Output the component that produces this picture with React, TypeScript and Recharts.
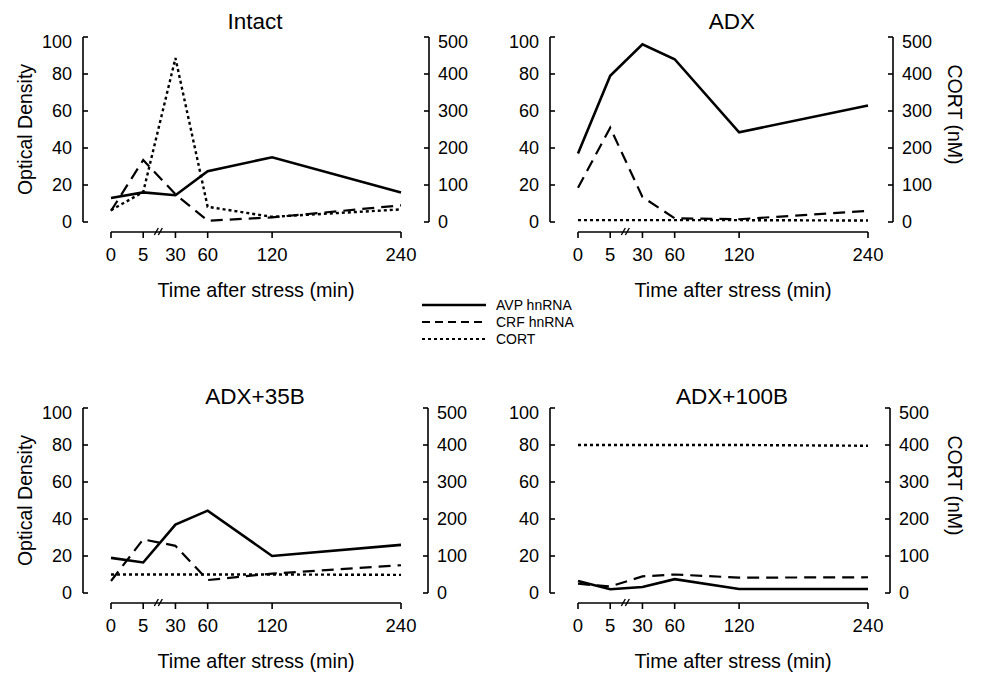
import React from "react";
import { Legend, Line, LineChart, XAxis, YAxis } from "recharts";

const font = "'Liberation Sans', Arial, Helvetica, sans-serif";

const timeLabels = ["0", "5", "30", "60", "120", "240"];
// 0, 5 and 30 min are evenly spaced, the axis is linear from 30 min on
const timePositions = [0, 1, 2, 3, 5, 9];
const axisBreak = 1.5;

const odTicks = [0, 20, 40, 60, 80, 100];
const cortTicks = [0, 100, 200, 300, 400, 500];

const intactAvp = [13, 16, 14.5, 27.5, 35, 16];
const intactCrf = [6, 33.5, 15, 0.7, 2.5, 9];
const intactCort = [32, 81, 443, 41, 14, 34];

const adxAvp = [37, 79, 96, 88, 48.5, 63];
const adxCrf = [18.5, 51, 13.5, 2, 1.5, 6];
const adxCort = [5, 5, 5, 5, 5, 4];

const adx35Avp = [19, 16.5, 37, 44.5, 20, 26];
const adx35Crf = [6.5, 29, 25.5, 7, 10.5, 15];
const adx35Cort = [50, 50, 50, 50, 50, 49];

const adx100Avp = [6.5, 2, 3.2, 7.5, 2.2, 2.2];
const adx100Crf = [5, 3.5, 9, 10, 8.3, 8.5];
const adx100Cort = [400, 400, 400, 400, 400, 398];

const series = [
  { key: "avp", name: "AVP hnRNA", axis: "od", width: 2.6, dash: undefined, legendDash: undefined },
  { key: "crf", name: "CRF hnRNA", axis: "od", width: 2.2, dash: "12 7", legendDash: "8 5" },
  { key: "cort", name: "CORT", axis: "cort", width: 2.4, dash: "3 3", legendDash: "3 3" },
];

const rows = (avp: number[], crf: number[], cort: number[]) =>
  timePositions.map((pos, i) => ({ pos, avp: avp[i], crf: crf[i], cort: cort[i] }));

const panels = [
  { title: "Intact", data: rows(intactAvp, intactCrf, intactCort), left: 0, top: 0, width: 483, rightAxis: 429, titleY: 22, shift: 0, odLabel: true, cortLabel: false, legend: true },
  { title: "ADX", data: rows(adxAvp, adxCrf, adxCort), left: 467, top: 0, width: 516, rightAxis: 426, titleY: 22, shift: 10, odLabel: false, cortLabel: true, legend: false },
  { title: "ADX+35B", data: rows(adx35Avp, adx35Crf, adx35Cort), left: 0, top: 371, width: 483, rightAxis: 428, titleY: 26, shift: 0, odLabel: true, cortLabel: false, legend: false },
  { title: "ADX+100B", data: rows(adx100Avp, adx100Crf, adx100Cort), left: 467, top: 371, width: 516, rightAxis: 423, titleY: 26, shift: 10, odLabel: false, cortLabel: true, legend: false },
];

const H = 305;
const plotTop = 37;
const plotBottom = 222;
const xAxisY = 232;
const dataLeft = 111;
const dataRight = 401;
const leftAxis = 83;

const ValueTick = (props: any) => {
  const { x, y, payload, textAnchor, top } = props;
  return (
    <text x={x} y={y + (payload.value === top ? 5 : 0)} dy="0.36em" textAnchor={textAnchor} fontSize={18} fill="#000" fontFamily={font}>
      {payload.value}
    </text>
  );
};

const TimeTick = (props: any) => {
  const { x, y, payload } = props;
  if (payload.value === axisBreak) {
    return (
      <g stroke="#000" strokeWidth={1.4}>
        <line x1={x - 5} y1={y + 3} x2={x - 1} y2={y - 4} />
        <line x1={x - 1} y1={y + 3} x2={x + 3} y2={y - 4} />
      </g>
    );
  }
  const label = timeLabels[timePositions.indexOf(payload.value)];
  return (
    <g>
      <line x1={x} y1={y} x2={x} y2={y + 6} stroke="#000" strokeWidth={1.6} />
      <text x={x} y={y + 29} textAnchor="middle" fontSize={18.5} fill="#000" fontFamily={font}>
        {label}
      </text>
    </g>
  );
};

const LegendContent = (props: any) => {
  const entries = [...(props.payload || [])].sort(
    (a: any, b: any) => series.findIndex((s) => s.name === a.value) - series.findIndex((s) => s.name === b.value)
  );
  return (
    <div style={{ fontFamily: font, fontSize: 14, color: "#000" }}>
      {entries.map((entry: any) => {
        const s = series.find((d) => d.name === entry.value);
        return (
          <div key={entry.value} style={{ display: "flex", alignItems: "center", height: 17 }}>
            <svg width={64} height={8}>
              <line x1={0} x2={64} y1={4} y2={4} stroke="#000" strokeWidth={s && s.key === "avp" ? 2.4 : 2} strokeDasharray={s?.legendDash} />
            </svg>
            <span style={{ marginLeft: 10 }}>{entry.value}</span>
          </div>
        );
      })}
    </div>
  );
};

function Panel({ p }: { p: (typeof panels)[number] }) {
  const rightWidth = p.width - p.rightAxis;
  const midY = (plotTop + plotBottom) / 2;
  return (
    <div style={{ position: "absolute", left: p.left, top: p.top, width: p.width, height: H }}>
      <div
        style={{
          position: "absolute",
          left: 255 + p.shift - 150,
          width: 300,
          top: p.titleY - 13,
          lineHeight: "26px",
          textAlign: "center",
          fontSize: 22.5,
          fontFamily: font,
          color: "#000",
        }}
      >
        {p.title}
      </div>
      <div style={{ position: "absolute", left: 0, top: 0 }}>
        <LineChart width={p.width} height={H} data={p.data} margin={{ top: plotTop, right: 0, bottom: H - plotBottom, left: 0 }}>
          <XAxis type="number" dataKey="pos" domain={[0, 9]} hide padding={{ left: dataLeft - leftAxis, right: p.rightAxis - dataRight }} />
          <YAxis
            yAxisId="od"
            domain={[0, 100]}
            ticks={odTicks}
            interval={0}
            width={leftAxis}
            tickSize={-5}
            tickMargin={16}
            axisLine={{ stroke: "#000", strokeWidth: 1.6 }}
            tickLine={{ stroke: "#000", strokeWidth: 1.6 }}
            tick={(t: any) => <ValueTick {...t} top={100} />}
            label={
              p.odLabel
                ? {
                    content: () => (
                      <text x={25} y={midY} transform={`rotate(-90, 25, ${midY})`} textAnchor="middle" dominantBaseline="central" fontSize={19.5} fill="#000" fontFamily={font}>
                        Optical Density
                      </text>
                    ),
                  }
                : undefined
            }
          />
          <YAxis
            yAxisId="cort"
            orientation="right"
            domain={[0, 500]}
            ticks={cortTicks}
            interval={0}
            width={rightWidth}
            tickSize={-5}
            tickMargin={14}
            axisLine={{ stroke: "#000", strokeWidth: 1.6 }}
            tickLine={{ stroke: "#000", strokeWidth: 1.6 }}
            tick={(t: any) => <ValueTick {...t} top={500} />}
            label={
              p.cortLabel
                ? {
                    content: () => (
                      <text x={488} y={midY - 15} transform={`rotate(90, 488, ${midY - 15})`} textAnchor="middle" dominantBaseline="central" fontSize={19.5} fill="#000" fontFamily={font}>
                        CORT (nM)
                      </text>
                    ),
                  }
                : undefined
            }
          />
          {series.map((s) => (
            <Line
              key={s.key}
              yAxisId={s.axis}
              dataKey={s.key}
              name={s.name}
              type="linear"
              stroke="#000"
              strokeWidth={s.width}
              strokeDasharray={s.dash}
              dot={false}
              isAnimationActive={false}
            />
          ))}
          {p.legend && (
            <Legend
              layout="vertical"
              align="center"
              verticalAlign="middle"
              content={<LegendContent />}
              wrapperStyle={{ position: "absolute", left: 422, top: 296, width: 170 }}
            />
          )}
        </LineChart>
      </div>
      <div style={{ position: "absolute", left: 0, top: 0 }}>
        <LineChart width={p.width} height={H} data={p.data} margin={{ top: plotTop, right: p.width - dataRight, bottom: 0, left: dataLeft }}>
          <XAxis
            type="number"
            dataKey="pos"
            domain={[0, 9]}
            ticks={[0, 1, axisBreak, 2, 3, 5, 9]}
            interval={0}
            height={H - xAxisY}
            tickSize={0}
            tickMargin={0}
            tickLine={false}
            axisLine={{ stroke: "#000", strokeWidth: 1.6 }}
            tick={<TimeTick />}
            label={{
              content: (lp: any) => {
                const vb = lp.viewBox || {};
                return (
                  <text x={(vb.x ?? dataLeft) + (vb.width ?? 290) / 2 + p.shift} y={(vb.y ?? xAxisY) + 65} textAnchor="middle" fontSize={19.8} fill="#000" fontFamily={font}>
                    Time after stress (min)
                  </text>
                );
              },
            }}
          />
          <YAxis hide domain={[0, 100]} />
        </LineChart>
      </div>
    </div>
  );
}

export default function App() {
  return (
    <div style={{ position: "fixed", left: 0, top: 0, width: 983, height: 676, overflow: "hidden", background: "#fff" }}>
      {panels.map((p) => (
        <Panel key={p.title} p={p} />
      ))}
    </div>
  );
}
